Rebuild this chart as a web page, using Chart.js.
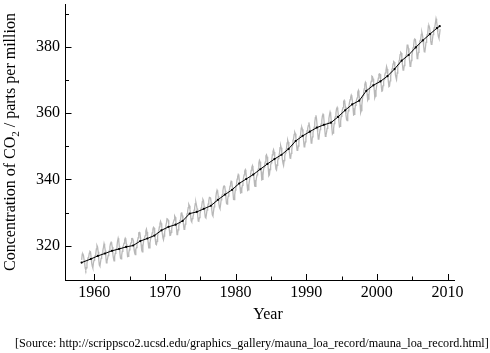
<!DOCTYPE html>
<html><head><meta charset="utf-8">
<script src="https://cdn.jsdelivr.net/npm/chart.js@4/dist/chart.umd.min.js"></script>
<style>html,body{margin:0;padding:0;background:#fff;} canvas{display:block;}</style>
</head><body>
<canvas id="c" width="490" height="353"></canvas>
<script>
// Monthly CO2 (ppm), Mauna Loa, starting March 1958, ending December 2008
const startYear = 1958;
const startMonth = 3;
const co2Monthly = [
  315.71, 317.45, 317.50, 317.10, 315.86, 314.93, 313.20, 312.66, 313.33, 314.67,
  315.62, 316.38, 316.71, 317.72, 318.29, 318.15, 316.54, 314.80, 313.84, 313.26, 314.80, 315.58,
  316.43, 316.97, 317.58, 319.02, 320.03, 319.59, 318.18, 315.91, 314.16, 313.83, 315.00, 316.19,
  316.93, 317.70, 318.54, 319.48, 320.58, 319.77, 318.57, 316.79, 314.80, 315.38, 316.10, 317.01,
  317.94, 318.56, 319.68, 320.63, 321.01, 320.55, 319.58, 317.40, 316.26, 315.42, 316.69, 317.69,
  318.74, 319.08, 319.86, 321.39, 322.25, 321.47, 319.74, 317.77, 316.21, 315.99, 317.12, 318.31,
  319.57, 320.07, 320.73, 321.77, 322.25, 321.89, 320.44, 318.70, 316.70, 316.79, 317.79, 318.71,
  319.44, 320.44, 320.89, 322.13, 322.16, 321.87, 321.39, 318.81, 317.81, 317.30, 318.87, 319.42,
  320.62, 321.59, 322.39, 323.87, 324.01, 323.75, 322.39, 320.37, 318.64, 318.10, 319.79, 321.08,
  322.07, 322.50, 323.04, 324.42, 325.00, 324.09, 322.55, 320.92, 319.31, 319.31, 320.72, 321.96,
  322.57, 323.15, 323.89, 325.02, 325.57, 325.36, 324.14, 322.03, 320.41, 320.25, 321.31, 322.84,
  324.00, 324.42, 325.64, 326.66, 327.34, 326.76, 325.88, 323.67, 322.38, 321.78, 322.85, 324.11,
  325.03, 325.99, 326.87, 328.13, 328.07, 327.66, 326.35, 324.69, 323.10, 323.16, 323.98, 325.13,
  326.17, 326.68, 327.18, 327.78, 328.92, 328.57, 327.34, 325.46, 323.36, 323.57, 324.80, 326.01,
  326.77, 327.63, 327.75, 329.72, 330.07, 329.09, 328.05, 326.32, 324.93, 325.06, 326.50, 327.55,
  328.54, 329.56, 330.30, 331.50, 332.48, 332.07, 330.87, 329.31, 327.51, 327.18, 328.16, 328.64,
  329.35, 330.71, 331.48, 332.65, 333.09, 332.25, 331.18, 329.40, 327.43, 327.37, 328.46, 329.57,
  330.40, 331.40, 332.04, 333.31, 333.96, 333.59, 331.91, 330.06, 328.56, 328.34, 329.49, 330.76,
  331.75, 332.56, 333.50, 334.58, 334.57, 334.34, 333.05, 330.94, 329.30, 328.94, 330.31, 331.68,
  332.93, 333.42, 334.70, 336.07, 336.74, 336.27, 334.93, 332.75, 331.58, 331.16, 332.40, 333.85,
  334.97, 335.39, 336.64, 337.76, 338.01, 337.89, 336.54, 334.68, 332.76, 332.54, 333.92, 334.95,
  336.23, 336.76, 337.96, 338.89, 339.47, 339.29, 337.73, 336.09, 333.91, 333.86, 335.29, 336.73,
  338.01, 338.36, 340.08, 340.77, 341.46, 341.17, 339.56, 337.60, 335.88, 336.01, 337.10, 338.21,
  339.24, 340.48, 341.38, 342.51, 342.91, 342.25, 340.49, 338.43, 336.69, 336.86, 338.36, 339.61,
  340.75, 341.61, 342.70, 343.56, 344.13, 343.35, 342.06, 339.82, 337.97, 337.86, 339.26, 340.49,
  341.38, 342.52, 343.10, 344.94, 345.75, 345.32, 343.99, 342.39, 339.86, 339.99, 341.16, 342.99,
  343.70, 344.51, 345.28, 347.08, 347.43, 346.79, 345.40, 343.28, 341.07, 341.35, 342.98, 344.22,
  344.97, 345.99, 347.42, 348.35, 348.93, 348.25, 346.56, 344.67, 343.09, 342.80, 344.24, 345.56,
  346.30, 346.95, 347.85, 349.55, 350.21, 349.54, 347.94, 345.91, 344.86, 344.17, 345.66, 346.90,
  348.02, 348.47, 349.42, 350.99, 351.84, 351.25, 349.52, 348.10, 346.44, 346.36, 347.81, 348.96,
  350.43, 351.72, 352.22, 353.59, 354.22, 353.79, 352.39, 350.44, 348.72, 348.88, 350.07, 351.34,
  352.76, 353.07, 353.68, 355.42, 355.67, 355.13, 353.90, 351.67, 349.80, 349.99, 351.30, 352.53,
  353.66, 354.70, 355.39, 356.20, 357.16, 356.22, 354.82, 352.91, 350.96, 351.18, 352.83, 354.21,
  354.72, 355.75, 357.16, 358.60, 359.34, 358.24, 356.17, 354.03, 352.16, 352.21, 353.75, 354.99,
  355.98, 356.72, 357.81, 359.15, 359.66, 359.25, 357.02, 355.00, 353.01, 353.31, 354.16, 355.40,
  356.70, 357.17, 358.38, 359.46, 360.28, 359.60, 357.57, 355.52, 353.70, 353.98, 355.33, 356.80,
  358.36, 358.91, 359.97, 361.26, 361.68, 360.95, 359.55, 357.49, 355.84, 356.00, 357.58, 359.04,
  359.97, 361.00, 361.64, 363.45, 363.79, 363.26, 361.90, 359.46, 358.06, 357.75, 359.56, 360.70,
  362.05, 363.25, 364.03, 364.72, 365.41, 364.97, 363.65, 361.49, 359.46, 359.60, 360.76, 362.33,
  363.18, 364.00, 364.57, 366.35, 366.79, 365.62, 364.47, 362.51, 360.19, 360.77, 362.43, 364.28,
  365.32, 366.15, 367.31, 368.61, 369.29, 368.87, 367.64, 365.77, 363.90, 364.23, 365.46, 366.97,
  368.15, 368.87, 369.59, 371.14, 371.00, 370.35, 369.27, 366.94, 364.63, 365.12, 366.67, 368.01,
  369.14, 369.46, 370.52, 371.66, 371.82, 371.70, 370.12, 368.12, 366.62, 366.73, 368.29, 369.53,
  370.28, 371.50, 372.12, 372.87, 374.02, 373.30, 371.62, 369.55, 367.96, 368.09, 369.68, 371.24,
  372.44, 373.08, 373.52, 374.85, 375.55, 375.40, 374.02, 371.48, 370.71, 370.25, 372.08, 373.78,
  374.68, 375.62, 376.11, 377.65, 378.35, 378.13, 376.62, 374.50, 372.99, 373.00, 374.35, 375.70,
  376.79, 377.37, 378.41, 380.52, 380.63, 379.57, 377.79, 375.86, 374.06, 374.24, 375.86, 377.48,
  378.37, 379.69, 380.41, 382.10, 382.28, 382.13, 380.66, 378.71, 376.42, 376.88, 378.32, 380.04,
  381.29, 381.92, 382.34, 383.71, 384.34, 383.55, 382.07, 380.16, 378.52, 378.46, 379.81, 381.34,
  382.45, 383.65, 384.23, 386.26, 386.39, 385.87, 384.39, 381.78, 380.73, 380.81, 382.33, 383.69,
  384.98, 385.78, 386.06, 387.25, 388.45, 387.62, 386.23, 384.27, 383.06, 382.54, 383.80, 385.33
];

// Trend (annual mean) line
const trendYears = [1958.2,
  1959.5, 1960.5, 1961.5, 1962.5, 1963.5, 1964.5, 1965.5, 1966.5, 1967.5, 1968.5,
  1969.5, 1970.5, 1971.5, 1972.5, 1973.5, 1974.5, 1975.5, 1976.5, 1977.5, 1978.5,
  1979.5, 1980.5, 1981.5, 1982.5, 1983.5, 1984.5, 1985.5, 1986.5, 1987.5, 1988.5,
  1989.5, 1990.5, 1991.5, 1992.5, 1993.5, 1994.5, 1995.5, 1996.5, 1997.5, 1998.5,
  1999.5, 2000.5, 2001.5, 2002.5, 2003.5, 2004.5, 2005.5, 2006.5, 2007.5, 2008.5,
  2008.9];
const trendValues = [314.9,
  315.97, 316.91, 317.64, 318.45, 318.99, 319.62, 320.04, 321.38, 322.16, 323.04,
  324.62, 325.68, 326.32, 327.45, 329.68, 330.18, 331.11, 332.04, 333.83, 335.40,
  336.84, 338.75, 340.11, 341.45, 343.05, 344.65, 346.12, 347.42, 349.19, 351.57,
  353.12, 354.39, 355.61, 356.45, 357.10, 358.83, 360.82, 362.61, 363.73, 366.70,
  368.38, 369.55, 371.14, 373.28, 375.80, 377.52, 379.80, 381.90, 383.79, 385.60,
  386.2];

const xTickLabels = [1960, 1970, 1980, 1990, 2000, 2010];
const xMinorTicks = [1965, 1975, 1985, 1995, 2005];
const yTickLabels = [320, 340, 360, 380];
const yMinorTicks = [330, 350, 370, 390];

const yTitleParts = ['Concentration of CO', '2', ' / parts per million'];
const xTitle = 'Year';
const sourceText = '[Source: http://scrippsco2.ucsd.edu/graphics_gallery/mauna_loa_record/mauna_loa_record.html]';

const monthlyPoints = co2Monthly.map((v, i) => ({ x: startYear + (startMonth - 1 + i + 0.5) / 12, y: v }));
const trendPoints = trendValues.map((v, i) => ({ x: trendYears[i], y: v }));

const FONT = "Liberation Serif";
Chart.defaults.font.family = FONT;
Chart.defaults.font.size = 16;
Chart.defaults.color = '#000';

const inwardTicks = {
  id: 'inwardTicks',
  afterDatasetsDraw(chart) {
    const ctx = chart.ctx, xs = chart.scales.x, ys = chart.scales.y;
    const bottom = chart.chartArea.bottom, left = chart.chartArea.left;
    ctx.save();
    ctx.strokeStyle = '#000';
    ctx.lineWidth = 1;
    ctx.beginPath();
    xTickLabels.forEach(v => { const p = Math.round(xs.getPixelForValue(v)) + 0.5; ctx.moveTo(p, bottom); ctx.lineTo(p, bottom - 6); });
    xMinorTicks.forEach(v => { const p = Math.round(xs.getPixelForValue(v)) + 0.5; ctx.moveTo(p, bottom); ctx.lineTo(p, bottom - 3.5); });
    yTickLabels.forEach(v => { const p = Math.round(ys.getPixelForValue(v)) + 0.5; ctx.moveTo(left, p); ctx.lineTo(left + 6, p); });
    yMinorTicks.forEach(v => { const p = Math.round(ys.getPixelForValue(v)) + 0.5; ctx.moveTo(left, p); ctx.lineTo(left + 3.5, p); });
    ctx.stroke();
    ctx.restore();
  }
};

const texts = {
  id: 'texts',
  afterDraw(chart) {
    const ctx = chart.ctx, ca = chart.chartArea;
    ctx.save();
    ctx.fillStyle = '#000';
    const big = '16px ' + FONT, small = '11px ' + FONT;
    ctx.font = big;
    const w1 = ctx.measureText(yTitleParts[0]).width;
    const w3 = ctx.measureText(yTitleParts[2]).width;
    ctx.font = small;
    const w2 = ctx.measureText(yTitleParts[1]).width;
    const total = w1 + w2 + w3;
    ctx.translate(15, (ca.top + ca.bottom) / 2);
    ctx.rotate(-Math.PI / 2);
    ctx.textBaseline = 'alphabetic';
    ctx.textAlign = 'left';
    const x0 = -total / 2;
    ctx.font = big; ctx.fillText(yTitleParts[0], x0, 0);
    ctx.font = small; ctx.fillText(yTitleParts[1], x0 + w1, 3.5);
    ctx.font = big; ctx.fillText(yTitleParts[2], x0 + w1 + w2, 0);
    ctx.restore();

    ctx.save();
    ctx.fillStyle = '#000';
    ctx.textBaseline = 'alphabetic';
    ctx.textAlign = 'center';
    ctx.font = '16px ' + FONT;
    ctx.fillText(xTitle, 268, 318.5);
    ctx.textAlign = 'left';
    ctx.font = '12.2px ' + FONT;
    ctx.fillText(sourceText, 15, 347);
    ctx.restore();
  }
};

new Chart(document.getElementById('c'), {
  type: 'line',
  data: {
    datasets: [
      { data: trendPoints, borderColor: '#000', borderWidth: 1, pointRadius: 1.1, pointBackgroundColor: '#000', pointBorderWidth: 0, tension: 0, order: 0 },
      { data: monthlyPoints, borderColor: '#b8b8b8', borderWidth: 1.3, pointRadius: 0, tension: 0, order: 1 }
    ]
  },
  options: {
    responsive: false,
    animation: false,
    devicePixelRatio: 1,
    layout: { padding: { left: 0, top: 1, right: 36, bottom: 0 } },
    plugins: { legend: { display: false }, tooltip: { enabled: false }, title: { display: false } },
    scales: {
      x: {
        type: 'linear',
        min: 1955.92, max: 2010.92,
        grid: { display: false, drawTicks: false },
        border: { display: true, color: '#000', width: 1 },
        afterBuildTicks: s => { s.ticks = xTickLabels.map(v => ({ value: v })); },
        afterFit: s => { s.height = 73; s.paddingLeft = 0; s.paddingRight = 0; },
        ticks: { color: '#000', font: { family: FONT, size: 16 }, padding: 3, maxRotation: 0, autoSkip: false, callback: v => String(v) }
      },
      y: {
        type: 'linear',
        min: 309.64, max: 392.9,
        grid: { display: false, drawTicks: false },
        border: { display: true, color: '#000', width: 1 },
        afterBuildTicks: s => { s.ticks = yTickLabels.map(v => ({ value: v })); },
        afterFit: s => { s.width = 65.5; s.paddingTop = 0; s.paddingBottom = 0; },
        ticks: { color: '#000', font: { family: FONT, size: 16 }, padding: 5.5, autoSkip: false, callback: v => String(v) }
      }
    }
  },
  plugins: [inwardTicks, texts]
});
</script>
</body></html>
